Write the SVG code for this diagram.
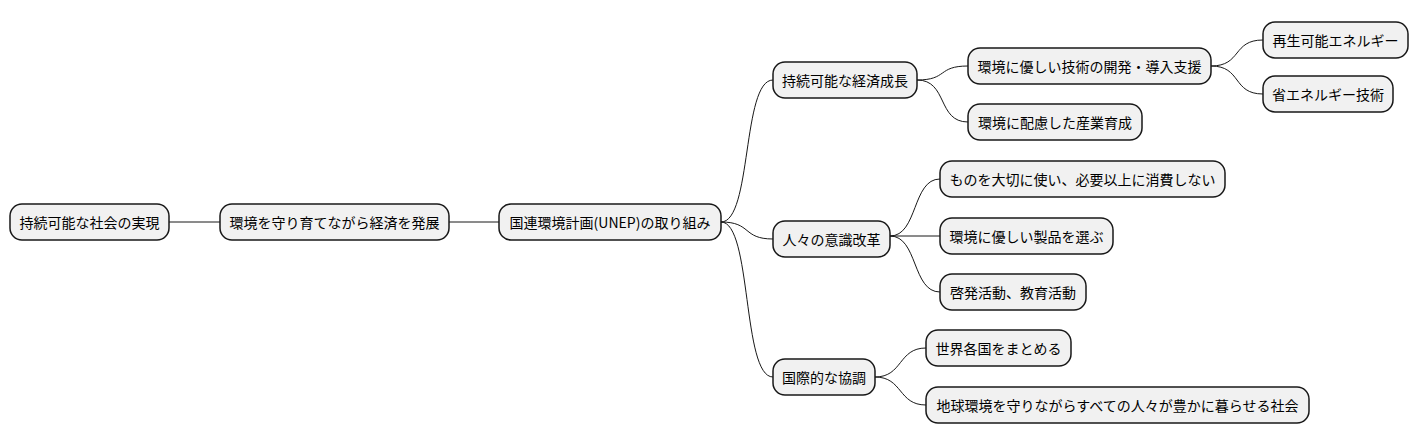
<svg xmlns="http://www.w3.org/2000/svg" width="1419" height="443" viewBox="0 0 1419 443">
<style>
rect{fill:#f1f1f1;stroke:#181818;stroke-width:1.5}
text{font-family:"Noto Sans CJK JP",sans-serif;font-size:14px;fill:#000;text-anchor:middle;dominant-baseline:central}
.e path{fill:none;stroke:#181818;stroke-width:1}
</style>
<rect width="1419" height="443" style="fill:#fff;stroke:none"/>
<g class="e">
<path d="M169 222 L220 222"/>
<path d="M449 222 L499 222"/>
<path d="M721 222 C752 222 742 80 773 80"/>
<path d="M721 222 C752 222 742 239 773 239"/>
<path d="M721 222 C752 222 742 377 773 377"/>
<path d="M917 80 C948 80 937 66 968 66"/>
<path d="M917 80 C948 80 937 122 968 122"/>
<path d="M1211 66 C1242 66 1232 40 1263 40"/>
<path d="M1211 66 C1242 66 1232 94 1263 94"/>
<path d="M890 236 C918 236 912 179 940 179"/>
<path d="M890 236 L940 236"/>
<path d="M890 236 C918 236 912 292 940 292"/>
<path d="M875 377 C903 377 898 348 926 348"/>
<path d="M875 377 C903 377 898 405 926 405"/>
</g>
<g id="n1"><rect x="10" y="204" width="159" height="36" rx="12"/><text x="89.5" y="222">持続可能な社会の実現</text></g>
<g id="n2"><rect x="220" y="204" width="229" height="36" rx="12"/><text x="334.5" y="222">環境を守り育てながら経済を発展</text></g>
<g id="n3"><rect x="499" y="204" width="222" height="36" rx="12"/><text x="610" y="222">国連環境計画(UNEP)の取り組み</text></g>
<g id="n4"><rect x="773" y="62" width="144" height="36" rx="12"/><text x="845" y="80">持続可能な経済成長</text></g>
<g id="n5"><rect x="968" y="48" width="243" height="36" rx="12"/><text x="1089.5" y="66">環境に優しい技術の開発・導入支援</text></g>
<g id="n6"><rect x="1263" y="22" width="145" height="36" rx="12"/><text x="1335.5" y="40">再生可能エネルギー</text></g>
<g id="n7"><rect x="1263" y="76" width="130" height="36" rx="12"/><text x="1328" y="94">省エネルギー技術</text></g>
<g id="n8"><rect x="968" y="104" width="174" height="36" rx="12"/><text x="1055" y="122">環境に配慮した産業育成</text></g>
<g id="n9"><rect x="773" y="221" width="117" height="36" rx="12"/><text x="831.5" y="239">人々の意識改革</text></g>
<g id="n10"><rect x="940" y="161" width="285" height="36" rx="12"/><text x="1082.5" y="179">ものを大切に使い、必要以上に消費しない</text></g>
<g id="n11"><rect x="940" y="218" width="173" height="36" rx="12"/><text x="1026.5" y="236">環境に優しい製品を選ぶ</text></g>
<g id="n12"><rect x="940" y="274" width="146" height="36" rx="12"/><text x="1013" y="292">啓発活動、教育活動</text></g>
<g id="n13"><rect x="773" y="359" width="102" height="36" rx="12"/><text x="824" y="377">国際的な協調</text></g>
<g id="n14"><rect x="926" y="330" width="145" height="36" rx="12"/><text x="998.5" y="348">世界各国をまとめる</text></g>
<g id="n15"><rect x="926" y="387" width="383" height="36" rx="12"/><text x="1117.5" y="405">地球環境を守りながらすべての人々が豊かに暮らせる社会</text></g>
</svg>
